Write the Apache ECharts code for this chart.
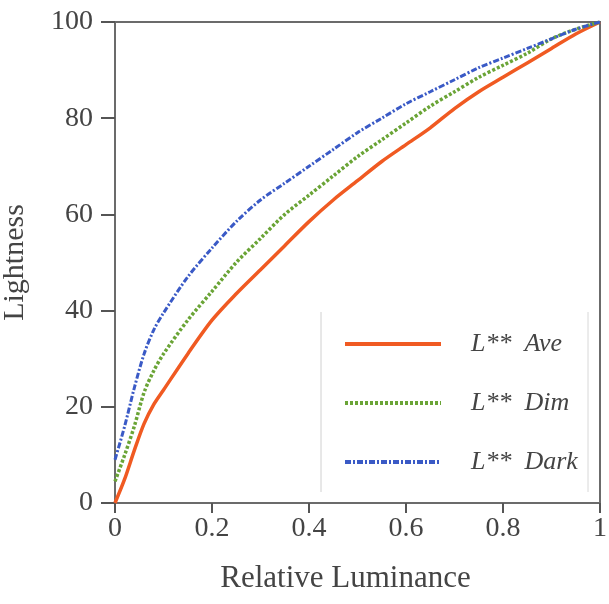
<!DOCTYPE html>
<html>
<head>
<meta charset="utf-8">
<script src="https://cdn.jsdelivr.net/npm/echarts@6/dist/echarts.min.js"></script>
<style>html,body{margin:0;padding:0;background:#fff}#c{width:609px;height:604px}</style>
</head>
<body>
<div id="c"></div>
<script>
// Relative luminance sample points
var luminance = [0, 0.02, 0.04, 0.06, 0.08, 0.1, 0.15, 0.2, 0.25, 0.3, 0.35, 0.4, 0.45, 0.5, 0.55, 0.6, 0.65, 0.7, 0.75, 0.8, 0.85, 0.9, 0.95, 1];
// Lightness values
var aveL  = [0, 5, 11, 16.5, 20.5, 23.5, 31, 38, 43.5, 48.5, 53.5, 58.5, 63, 67, 71, 74.5, 78, 82, 85.5, 88.5, 91.5, 94.5, 97.5, 100];
var dimL  = [4.5, 10, 16, 23, 27.5, 31, 38, 44, 50, 55, 60, 64, 68, 72, 75.5, 79, 82.5, 85.5, 88.5, 91, 93.5, 96.5, 98.5, 100];
var darkL = [9, 16, 24, 31, 36, 39.5, 47, 53, 58.5, 63, 66.5, 70, 73.5, 77, 80, 83, 85.5, 88, 90.5, 92.5, 94.5, 96.5, 98.5, 100];
var seriesNames = ['L**  Ave', 'L**  Dim', 'L**  Dark'];
var xTicks = [0, 0.2, 0.4, 0.6, 0.8, 1];
var yTicks = [0, 20, 40, 60, 80, 100];

function pairs(ys){ return luminance.map(function(x,i){ return [x, ys[i]]; }); }

var serif = '"Liberation Serif", "DejaVu Serif", serif';
var chart = echarts.init(document.getElementById('c'));
chart.setOption({
  animation: false,
  backgroundColor: '#fff',
  grid: { left: 115, right: 9, top: 22, bottom: 101, show: true, borderColor: '#6b6b6b', borderWidth: 2,
          containLabel: false, outerBoundsMode: 'none' },
  xAxis: {
    type: 'value', min: 0, max: 1, interval: 0.2,
    name: 'Relative Luminance', nameLocation: 'middle', nameGap: 60,
    nameTextStyle: { fontFamily: serif, fontSize: 31, color: '#444', padding: [0, 24, 0, 0] },
    axisLine: { show: true, lineStyle: { color: '#6b6b6b', width: 2 } },
    axisTick: { show: true, inside: false, length: 10, lineStyle: { color: '#555', width: 2 } },
    axisLabel: { fontFamily: serif, fontSize: 28, color: '#444', margin: 12,
      formatter: function(v){ return xTicks.indexOf(v) >= 0 ? String(v) : ''; } },
    splitLine: { show: false }
  },
  yAxis: {
    type: 'value', min: 0, max: 100, interval: 20,
    name: 'Lightness', nameLocation: 'middle', nameGap: 85,
    nameTextStyle: { fontFamily: serif, fontSize: 30, color: '#444' },
    axisLine: { show: true, lineStyle: { color: '#6b6b6b', width: 2 } },
    axisTick: { show: true, length: 14, lineStyle: { color: '#555', width: 2 } },
    axisLabel: { fontFamily: serif, fontSize: 28, color: '#444', margin: 22 },
    splitLine: { show: false }
  },
  legend: {
    orient: 'vertical', left: 338, top: 326,
    itemWidth: 96, itemHeight: 14, itemGap: 33,
    data: seriesNames,
    itemStyle: { opacity: 0 },
    lineStyle: { width: 4 },
    textStyle: { fontFamily: serif, fontSize: 26, fontStyle: 'italic', color: '#444', padding: [0, 0, 0, 25] }
  },
  graphic: [
    { type: 'line', shape: { x1: 321, y1: 312, x2: 321, y2: 492 }, style: { stroke: '#d0d0d0', lineWidth: 1 } },
    { type: 'line', shape: { x1: 588, y1: 312, x2: 588, y2: 492 }, style: { stroke: '#d8d8d8', lineWidth: 1 } }
  ],
  series: [
    { name: seriesNames[0], type: 'line', data: pairs(aveL), symbol: 'none', smooth: 0.3,
      lineStyle: { color: '#f05a22', width: 3.5 }, itemStyle: { color: '#f05a22' }, z: 3 },
    { name: seriesNames[1], type: 'line', data: pairs(dimL), symbol: 'none', smooth: 0.3,
      lineStyle: { color: '#6aa436', width: 3.5, type: [3, 2] }, itemStyle: { color: '#6aa436' }, z: 4 },
    { name: seriesNames[2], type: 'line', data: pairs(darkL), symbol: 'none', smooth: 0.3,
      lineStyle: { color: '#3a5ac6', width: 3, type: [6, 2, 2, 2] }, itemStyle: { color: '#3a5ac6' }, z: 5 }
  ]
});
</script>
</body>
</html>
